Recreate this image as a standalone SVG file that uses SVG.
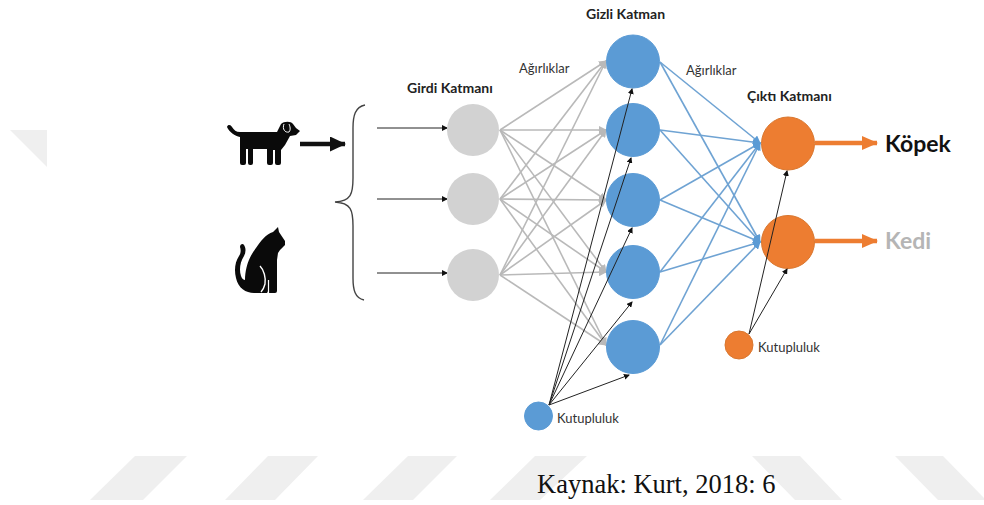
<svg xmlns="http://www.w3.org/2000/svg" width="984" height="505" viewBox="0 0 984 505">
<style>
.wm{fill:#efefef}
.g{stroke:#b9b9b9;stroke-width:1.6;fill:none;marker-end:url(#ag)}
.b{stroke:#6fa3d3;stroke-width:1.6;fill:none;marker-end:url(#ab)}
.k{stroke:#222;stroke-width:1;fill:none;marker-end:url(#ak)}
.t{font-family:Lato,"Liberation Sans",sans-serif;fill:#333;font-size:13px}
.h{font-family:Lato,"Liberation Sans",sans-serif;font-weight:700;fill:#222;font-size:14px}
.in{fill:#d2d2d2}
.hid{fill:#5b9bd5;stroke:#5b9bd5}
.out{fill:#ed7d31;stroke:#d9772f}
</style>
<defs>
<marker id="ag" markerWidth="8" markerHeight="8" refX="7" refY="4" orient="auto" markerUnits="userSpaceOnUse"><path d="M0 0L8 4L0 8Z" fill="#b9b9b9"/></marker>
<marker id="ab" markerWidth="8" markerHeight="8" refX="7" refY="4" orient="auto" markerUnits="userSpaceOnUse"><path d="M0 0L8 4L0 8Z" fill="#5b9bd5"/></marker>
<marker id="ak" markerWidth="6" markerHeight="6" refX="5" refY="3" orient="auto" markerUnits="userSpaceOnUse"><path d="M0 0L6 3L0 6Z" fill="#111"/></marker>
<marker id="ao" markerWidth="16" markerHeight="14" refX="15" refY="7" orient="auto" markerUnits="userSpaceOnUse"><path d="M0 0L16 7L0 14Z" fill="#ed7d31"/></marker>
<marker id="abk" markerWidth="16" markerHeight="15" refX="15" refY="7.5" orient="auto" markerUnits="userSpaceOnUse"><path d="M0 0L16 7.5L0 15Z" fill="#111"/></marker>
</defs>
<g id="watermark">
<path class="wm" d="M10 130H47V167Z"/>
<path class="wm" d="M135 456H187L143 500H90Z"/>
<path class="wm" d="M268 456H318L275 500H225Z"/>
<path class="wm" d="M408 456H457L413 500H363Z"/>
<path class="wm" d="M535 456H587L540 500H490Z"/>
<path class="wm" d="M752 456H800L842 500H795Z"/>
<path class="wm" d="M895 456H943L984 498V500H938Z"/>
</g>
<g id="connectors">
<path class="k" d="M377 128H447"/><path class="k" d="M377 199H447"/><path class="k" d="M377 273H447"/>
<path d="M300 144H345" stroke="#111" stroke-width="4.5" fill="none" marker-end="url(#abk)"/>
<path d="M365 105C355 107 353 116 353 128V178C353 194 351 201 335 202C351 203 353 210 353 226V278C353 290 355 298 364 300" stroke="#444" stroke-width="1.4" fill="none"/>
<path class="g" d="M500 130L606 61"/><path class="g" d="M500 130L606 130"/><path class="g" d="M500 130L606 200"/><path class="g" d="M500 130L606 272"/><path class="g" d="M500 130L606 345"/>
<path class="g" d="M500 199L606 61"/><path class="g" d="M500 199L606 130"/><path class="g" d="M500 199L606 200"/><path class="g" d="M500 199L606 272"/><path class="g" d="M500 199L606 345"/>
<path class="g" d="M500 275L606 61"/><path class="g" d="M500 275L606 130"/><path class="g" d="M500 275L606 200"/><path class="g" d="M500 275L606 272"/><path class="g" d="M500 275L606 345"/>
<path class="b" d="M660 62L760 143"/><path class="b" d="M660 62L760 242"/>
<path class="b" d="M660 130L760 143"/><path class="b" d="M660 130L760 242"/>
<path class="b" d="M660 200L760 143"/><path class="b" d="M660 200L760 242"/>
<path class="b" d="M660 272L760 143"/><path class="b" d="M660 272L760 242"/>
<path class="b" d="M660 345L760 143"/><path class="b" d="M660 345L760 242"/>
<path d="M815 143H877" stroke="#ed7d31" stroke-width="4.5" fill="none" marker-end="url(#ao)"/>
<path d="M815 241H877" stroke="#ed7d31" stroke-width="4.5" fill="none" marker-end="url(#ao)"/>
</g>
<g id="input-1"><circle class="in" cx="473" cy="130" r="26"/></g>
<g id="input-2"><circle class="in" cx="473" cy="199" r="26"/></g>
<g id="input-3"><circle class="in" cx="473" cy="275" r="26"/></g>
<g id="hidden-1"><circle class="hid" cx="633" cy="61.5" r="26.5"/></g>
<g id="hidden-2"><circle class="hid" cx="633" cy="130" r="26.5"/></g>
<g id="hidden-3"><circle class="hid" cx="633" cy="200" r="26.5"/></g>
<g id="hidden-4"><circle class="hid" cx="633" cy="272" r="26.5"/></g>
<g id="hidden-5"><circle class="hid" cx="633" cy="347" r="26.5"/></g>
<g id="output-1"><circle class="out" cx="788" cy="143.5" r="26.5"/></g>
<g id="output-2"><circle class="out" cx="788" cy="242" r="26.5"/></g>
<g id="bias-connectors">
<path class="k" d="M549 405L632 89"/><path class="k" d="M549 405L631 158"/><path class="k" d="M549 405L632 228"/><path class="k" d="M549 405L632 302"/><path class="k" d="M549 405L629 375"/>
<path class="k" d="M749 334L787 171"/><path class="k" d="M749 334L787 269"/>
</g>
<g id="bias-blue"><circle class="hid" cx="538.5" cy="416" r="14"/><text class="t" x="557" y="423">Kutupluluk</text></g>
<g id="bias-orange"><circle class="out" cx="739" cy="345" r="14"/><text class="t" x="758" y="352">Kutupluluk</text></g>
<g id="dog">
<path fill="#0a0a0a" d="M227 127C228 124 231 125 232 127C234 130 236 132 240 132H277L281 124C284 121 291 121 293 124L296 128L300 131L296 135L290 136L285 145L281 150V163Q281 165 279 165H277Q275 165 275 163V150H273V163Q273 165 271 165H269Q267 165 267 163V149H253V163Q253 165 251 165H250Q248 165 248 163V149H246V163Q246 165 244 165H242Q240 165 240 163V137C235 136 229 132 227 127Z"/>
<path fill="none" stroke="#fff" stroke-width="1" d="M284 124C282 129 285 133 289 132C291 130 290 126 289 124"/>
</g>
<g id="cat">
<path fill="#0a0a0a" d="M278 227L279 232L285 241L285 245L280 250L278 253L277 260V291Q277 293 275 293H269Q267 293 267 291V293H254C246 293 238 288 236 278C234 270 235 262 239 256C241 253 241 250 240 247C240 244 243 243 244 245C246 248 246 252 244 256C240 262 239 270 241 276C242 279 244 280 245 280C245 270 248 258 256 248C260 242 266 234 273 232Z"/>
<path fill="none" stroke="#fff" stroke-width="1.4" d="M260 266C264 270 266 278 265 284C264 288 263 290 261 292"/>
<path fill="none" stroke="#fff" stroke-width="1.2" d="M268.500 280V293"/>
</g>
<g id="labels">
<text class="h" x="407" y="93">Girdi Katmanı</text>
<text class="h" x="586" y="19">Gizli Katman</text>
<text class="h" x="747" y="100.500">Çıktı Katmanı</text>
<text class="t" x="519" y="73">Ağırlıklar</text>
<text class="t" x="686" y="75">Ağırlıklar</text>
<text x="885" y="152" font-family="Lato,Liberation Sans,sans-serif" font-weight="700" font-size="23" fill="#111">Köpek</text>
<text x="885" y="249" font-family="Lato,Liberation Sans,sans-serif" font-weight="700" font-size="23" fill="#b5b5b5">Kedi</text>
<text x="537" y="493" font-family="Liberation Serif,serif" font-size="26.500" fill="#111">Kaynak: Kurt, 2018: 6</text>
</g>
</svg>
